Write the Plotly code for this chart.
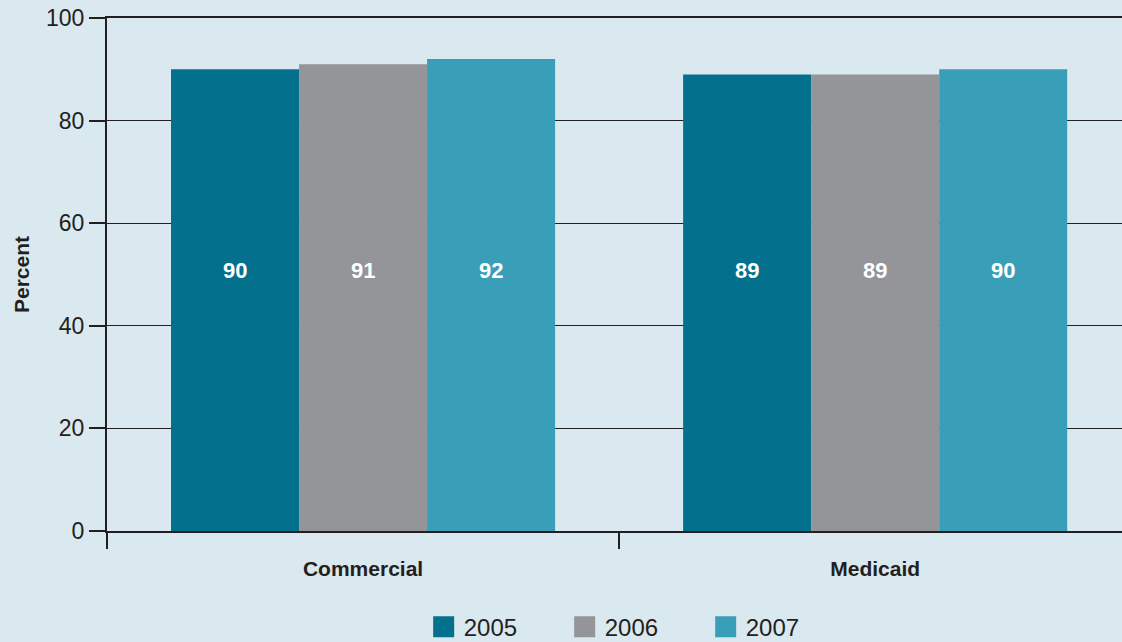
import plotly.graph_objects as go

categories = ["Commercial", "Medicaid"]
years = ["2005", "2006", "2007"]
values_2005 = [90, 89]
values_2006 = [91, 89]
values_2007 = [92, 90]
y_ticks = [0, 20, 40, 60, 80, 100]

series = [values_2005, values_2006, values_2007]
colors = ["#03718E", "#939598", "#399FB8"]
BG = "#DAE8EF"
INK = "#231F20"
FONT = "Liberation Sans, Arial, sans-serif"
LABEL_Y = 50.7  # value labels sit at a common height inside the bars

fig = go.Figure()

for year, vals, col in zip(years, series, colors):
    fig.add_trace(go.Bar(
        x=categories, y=vals, name=year, marker=dict(color=col, line=dict(width=0)),
        showlegend=False, hoverinfo="x+y+name",
    ))
    # legend proxy with a larger square swatch
    fig.add_trace(go.Scatter(
        x=[None], y=[None], mode="markers", name=year,
        marker=dict(symbol="square", size=16, color=col, line=dict(color=col, width=5)),
    ))

# value labels
bar_px = 128
for i, vals in enumerate(series):
    for cat, v in zip(categories, vals):
        fig.add_annotation(
            x=cat, y=LABEL_Y, text=f"<b>{v}</b>", showarrow=False,
            xshift=(i - 1) * bar_px, font=dict(family=FONT, size=22, color="white"),
        )

fig.update_layout(
    width=1122, height=642,
    paper_bgcolor=BG, plot_bgcolor=BG,
    margin=dict(l=107, r=0, t=18, b=111),
    barmode="group", bargap=0.25, bargroupgap=0,
    font=dict(family=FONT, color=INK),
    legend=dict(
        orientation="h", x=0.312, xanchor="left",
        yref="container", y=0.023, yanchor="middle",
        font=dict(size=24, color=INK), bgcolor="rgba(0,0,0,0)",
        itemwidth=30, entrywidth=96, entrywidthmode="pixels", tracegroupgap=0,
    ),
)

fig.update_xaxes(
    type="category", range=[-0.5, 1.482],
    showline=True, mirror=True, linecolor=INK, linewidth=2,
    ticks="outside", tickson="boundaries", ticklen=16, tickwidth=2, tickcolor=INK,
    tickfont=dict(family=FONT, size=21, color=INK), ticklabelstandoff=18,
    tickvals=categories, ticktext=[f"<b>{c}</b>" for c in categories],
    showgrid=False, zeroline=False,
)

fig.update_yaxes(
    range=[0, 100], tickvals=y_ticks,
    showline=True, linecolor=INK, linewidth=2,
    ticks="outside", ticklen=16, tickwidth=2, tickcolor=INK,
    tickfont=dict(family=FONT, size=23, color=INK),
    showgrid=True, gridcolor=INK, gridwidth=1.2,
    zeroline=False,
    title=dict(text="<b>Percent</b>", font=dict(family=FONT, size=21, color=INK), standoff=11),
)

fig.write_html("out.html", config={"displayModeBar": False},
               post_script="document.body.style.margin='0';")
